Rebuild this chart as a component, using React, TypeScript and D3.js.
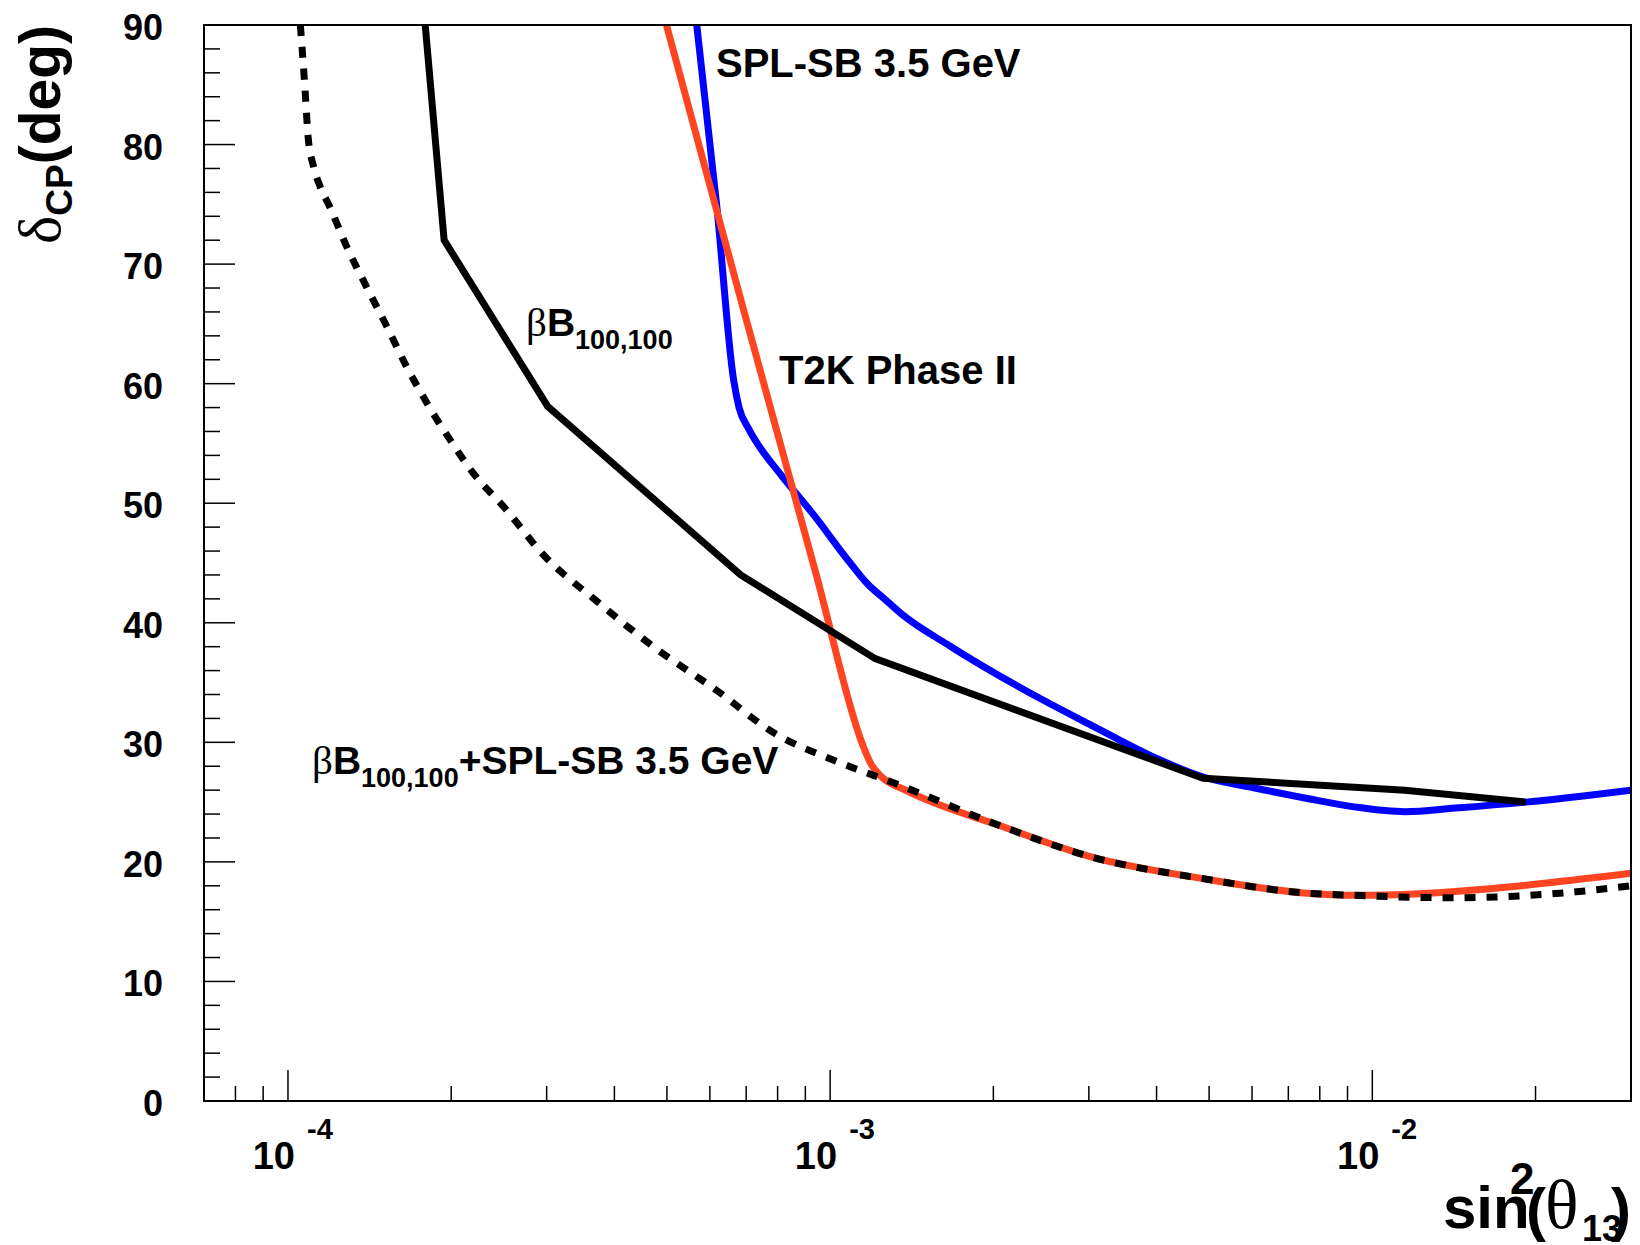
import React from 'react';
import * as d3 from 'd3';

// ---------- data (sin^2(theta13), deltaCP in deg) ----------
const X_MIN = 7e-5;
const X_MAX = 3e-2;
const Y_MIN = 0;
const Y_MAX = 90;

const xMajorTicks = [1e-4, 1e-3, 1e-2];
const xMajorExponents = ['-4', '-3', '-2'];
const yMajorTicks = [0, 10, 20, 30, 40, 50, 60, 70, 80, 90];

// beta-beam 100,100 (black solid)
const betaBeamX = [1.791e-4, 1.941e-4, 3.013e-4, 6.839e-4, 1.211e-3, 4.875e-3, 1.148e-2, 1.919e-2];
const betaBeamY = [90, 72.0, 58.1, 44.0, 37.0, 27.0, 26.0, 25.0];

// SPL-SB 3.5 GeV (blue)
const splX = [5.675e-4, 6.18e-4, 6.637e-4, 6.792e-4, 7.079e-4, 7.413e-4, 8.072e-4, 9.333e-4, 1.089e-3,
  1.175e-3, 1.259e-3, 1.349e-3, 1.671e-3, 2.455e-3, 3.041e-3, 3.936e-3, 4.875e-3, 6.039e-3, 7.586e-3,
  9.268e-3, 1.148e-2, 1.422e-2, 1.919e-2, 3.0e-2];
const splY = [90, 74.8, 60.3, 58.0, 56.2, 54.7, 52.5, 49.0, 45.0, 43.2, 42.0, 40.8, 38.0, 33.6, 31.4, 28.8,
  27.1, 26.2, 25.3, 24.6, 24.2, 24.5, 25.0, 26.0];

// T2K Phase II (red)
const t2kX = [4.989e-4, 6.95e-4, 9.43e-4, 1.148e-3, 1.189e-3, 1.245e-3, 1.377e-3, 2.065e-3, 3.041e-3,
  4.875e-3, 7.482e-3, 9.268e-3, 3.0e-2];
const t2kY = [90, 65.9, 44.0, 29.8, 28.2, 27.1, 26.0, 23.0, 20.4, 18.6, 17.4, 17.2, 19.05];

// beta-beam + SPL-SB combined (black dashed)
const comboX = [1.054e-4, 1.074e-4, 1.089e-4, 1.114e-4, 1.146e-4, 1.194e-4, 1.282e-4, 1.396e-4, 1.521e-4,
  1.656e-4, 1.803e-4, 1.991e-4, 2.198e-4, 2.5e-4, 2.985e-4, 3.69e-4, 4.721e-4, 6.152e-4, 7.87e-4,
  1.042e-3, 1.312e-3, 2.065e-3, 3.041e-3, 4.875e-3, 7.482e-3, 9.268e-3, 1.419e-2, 2.377e-2, 3.0e-2];
const comboY = [90, 84.9, 80.7, 78.2, 76.5, 74.8, 71.5, 68.1, 64.8, 61.4, 58.4, 55.3, 52.5, 49.7, 45.5, 41.9,
  38.0, 34.4, 30.8, 28.3, 26.6, 23.0, 20.4, 18.6, 17.4, 17.2, 17.0, 17.5, 18.0];

// ---------- layout ----------
const W = 1640;
const H = 1245;
const PLOT = { left: 204, right: 1631, top: 25, bottom: 1101 };
const SANS = "'Liberation Sans', Arial, Helvetica, sans-serif";
const SERIF = "'Liberation Serif', 'Times New Roman', serif";
const RED = '#ff4422';
const BLUE = '#0000ff';

export default function App() {
  const x = d3.scaleLog().domain([X_MIN, X_MAX]).range([PLOT.left, PLOT.right]);
  const y = d3.scaleLinear().domain([Y_MIN, Y_MAX]).range([PLOT.bottom, PLOT.top]);

  const path = (xs: number[], ys: number[], curve: d3.CurveFactory) =>
    d3
      .line<number>()
      .x((_, i) => x(xs[i]))
      .y((_, i) => y(ys[i]))
      .curve(curve)(xs) || '';

  // minor x ticks
  const xMinor: number[] = [];
  for (let e = -5; e <= -1; e++) {
    for (let m = 2; m <= 9; m++) {
      const v = m * Math.pow(10, e);
      if (v > X_MIN && v < X_MAX) xMinor.push(v);
    }
  }
  const yMinor: number[] = [];
  for (let v = 2; v < 90; v += 2) if (v % 10 !== 0) yMinor.push(v);

  return (
    <svg
      width={W}
      height={H}
      viewBox={`0 0 ${W} ${H}`}
      style={{ position: 'absolute', left: 0, top: 0, background: '#fff' }}
    >
      <rect x={0} y={0} width={W} height={H} fill="#fff" />
      <defs>
        <clipPath id="plotClip">
          <rect x={PLOT.left} y={PLOT.top} width={PLOT.right - PLOT.left} height={PLOT.bottom - PLOT.top} />
        </clipPath>
      </defs>

      {/* curves */}
      <g clipPath="url(#plotClip)" fill="none" strokeWidth={7}>
        <path d={path(splX, splY, d3.curveMonotoneX)} stroke={BLUE} strokeLinejoin="round" />
        <path d={path(t2kX, t2kY, d3.curveMonotoneX)} stroke={RED} strokeLinejoin="round" />
        <path d={path(betaBeamX, betaBeamY, d3.curveLinear)} stroke="#000" strokeLinejoin="miter" />
        <path d={path(comboX, comboY, d3.curveMonotoneX)} stroke="#000" strokeDasharray="11 11" />
      </g>

      {/* frame */}
      <rect
        x={PLOT.left}
        y={PLOT.top}
        width={PLOT.right - PLOT.left}
        height={PLOT.bottom - PLOT.top}
        fill="none"
        stroke="#000"
        strokeWidth={2}
      />

      {/* ticks */}
      <g stroke="#000" strokeWidth={1.5}>
        {yMajorTicks.map((v) => (
          <line key={'ym' + v} x1={PLOT.left} x2={PLOT.left + 31} y1={y(v)} y2={y(v)} />
        ))}
        {yMinor.map((v) => (
          <line key={'yn' + v} x1={PLOT.left} x2={PLOT.left + 16} y1={y(v)} y2={y(v)} />
        ))}
        {xMajorTicks.map((v) => (
          <line key={'xm' + v} x1={x(v)} x2={x(v)} y1={PLOT.bottom} y2={PLOT.bottom - 31} />
        ))}
        {xMinor.map((v) => (
          <line key={'xn' + v} x1={x(v)} x2={x(v)} y1={PLOT.bottom} y2={PLOT.bottom - 15} />
        ))}
      </g>

      {/* y tick labels */}
      <g fontFamily={SANS} fontWeight="bold" fontSize={36} textAnchor="end" fill="#000">
        {yMajorTicks.map((v) => (
          <text key={'yl' + v} x={163} y={y(v) + 15}>
            {v}
          </text>
        ))}
      </g>

      {/* x tick labels */}
      <g fontFamily={SANS} fontWeight="bold" fill="#000">
        {xMajorTicks.map((v, i) => (
          <g key={'xl' + v}>
            <text x={x(v) + 7} y={1169} fontSize={38} textAnchor="end">
              10
            </text>
            <text x={x(v) + 19} y={1139} fontSize={29} textAnchor="start">
              {xMajorExponents[i]}
            </text>
          </g>
        ))}
      </g>

      {/* x axis title: sin^2(theta_13) */}
      <g fill="#000">
        <text x={1443} y={1228} fontFamily={SANS} fontWeight="bold" fontSize={60}>
          sin
        </text>
        <text x={1510} y={1194} fontFamily={SANS} fontWeight="bold" fontSize={44}>
          2
        </text>
        <text x={1526} y={1230} fontFamily={SANS} fontWeight="bold" fontSize={60}>
          (
        </text>
        <text x={1545} y={1228} fontFamily={SERIF} fontSize={70}>
          θ
        </text>
        <text x={1582} y={1241} fontFamily={SANS} fontWeight="bold" fontSize={36}>
          13
        </text>
        <text x={1611} y={1230} fontFamily={SANS} fontWeight="bold" fontSize={60}>
          )
        </text>
      </g>

      {/* y axis title: delta_CP (deg) */}
      <text
        transform="translate(60,25) rotate(-90)"
        textAnchor="end"
        fill="#000"
        fontFamily={SANS}
        fontWeight="bold"
        fontSize={57}
      >
        <tspan fontFamily={SERIF} fontWeight="normal" fontSize={60}>
          δ
        </tspan>
        <tspan fontSize={37} dy={12}>
          CP
        </tspan>
        <tspan dy={-12}>(deg)</tspan>
      </text>

      {/* curve labels */}
      <g fill="#000" fontFamily={SANS} fontWeight="bold" fontSize={40}>
        <text x={716} y={77}>
          SPL-SB 3.5 GeV
        </text>
        <text x={779} y={384}>
          T2K Phase II
        </text>
        <text x={526} y={336} fontSize={39}>
          <tspan fontFamily={SERIF} fontWeight="normal" fontSize={41}>
            β
          </tspan>
          <tspan>B</tspan>
          <tspan fontSize={27} dy={13}>
            100,100
          </tspan>
        </text>
        <text x={312} y={774} fontSize={39}>
          <tspan fontFamily={SERIF} fontWeight="normal" fontSize={41}>
            β
          </tspan>
          <tspan>B</tspan>
          <tspan fontSize={27} dy={13}>
            100,100
          </tspan>
          <tspan dy={-13}>+SPL-SB 3.5 GeV</tspan>
        </text>
      </g>
    </svg>
  );
}
